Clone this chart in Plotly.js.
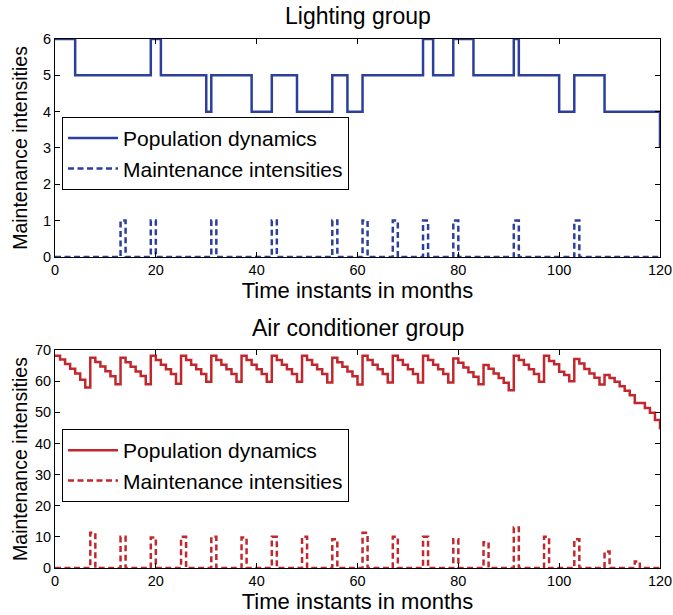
<!DOCTYPE html>
<html>
<head>
<meta charset="utf-8">
<script src="https://cdn.plot.ly/plotly-3.0.1.min.js"></script>
<style>
html,body{margin:0;padding:0;background:#fff;}
#chart{width:673px;height:615px;}
</style>
</head>
<body>
<div id="chart"></div>
<script>
// ---- Lighting group (step change points) ----
const lightPopX = [0, 4, 19, 21, 30, 31, 39, 43, 48, 55, 58, 61, 73, 75, 79, 83, 91, 92, 100, 103, 109, 120];
const lightPopY = [6, 5, 6, 5, 4, 5, 4, 5, 4, 5, 4, 5, 6, 5, 6, 5, 6, 5, 4, 5, 4, 3];
const lightMaintX = [0, 13, 14, 19, 20, 31, 32, 43, 44, 55, 56, 61, 62, 67, 68, 73, 74, 79, 80, 91, 92, 103, 104, 120];
const lightMaintY = [0, 1, 0, 1, 0, 1, 0, 1, 0, 1, 0, 1, 0, 1, 0, 1, 0, 1, 0, 1, 0, 1, 0, 0];

// ---- Air conditioner group ----
const months = [];
for (let m = 0; m <= 120; m++) months.push(m);
const acPop = [
  68.2, 67, 65.5, 64, 62.5, 60.5, 58,
  67.5, 66.2, 64.7, 63.2, 61.6, 59,
  67.5, 66.1, 64.6, 63.1, 61.7, 59,
  68.2, 66.8, 65.3, 63.8, 62.3, 59.2,
  68.2, 66.8, 65.3, 63.8, 62.3, 59.8,
  68.2, 66.8, 65.3, 63.8, 62.3, 59.8,
  68.2, 66.8, 65.3, 63.8, 62.3, 59.8,
  68.2, 66.8, 65.3, 63.8, 62.3, 59.8,
  68.2, 66.8, 65.3, 63.8, 62.3, 59.6,
  67.5, 66.1, 64.6, 63.1, 61.6, 58.9,
  68.2, 66.8, 65.3, 63.8, 62.3, 59.6,
  68.2, 66.8, 65.3, 63.8, 62.3, 59.6,
  68.2, 66.8, 65.3, 63.8, 62.3, 59.6,
  67.3, 65.9, 64.4, 62.9, 61.4, 59,
  65.2, 64, 62.5, 61, 59.5, 57.1,
  68.2, 66.8, 65.3, 63.8, 62.3, 59.8,
  68.2, 66.5, 65.4, 63, 62, 60,
  67.1, 65.7, 63.9, 62.5, 61.1, 58.9,
  62, 61, 59.8, 58.4, 56.9, 55.5, 53, 53, 51.4, 49.9, 47.5, 44.5
];
const acMaintX = [0, 7, 8, 13, 14, 19, 20, 25, 26, 31, 32, 37, 38, 43, 44, 49, 50, 55, 56,
  61, 62, 67, 68, 73, 74, 79, 80, 85, 86, 91, 92, 97, 98, 103, 104, 109, 110, 115, 116, 120];
const acMaintY = [0, 11.3, 0, 10, 0, 9.8, 0, 10, 0, 10, 0, 9.8, 0, 10, 0, 10, 0, 9.2, 0,
  11.3, 0, 10, 0, 10, 0, 9.2, 0, 8.3, 0, 13, 0, 10, 0, 9.2, 0, 5.3, 0, 2.1, 0, 0];

// ---- labels ----
const titles = ['Lighting group', 'Air conditioner group'];
const xLabel = 'Time instants in months';
const yLabel = 'Maintenance intensities';
const seriesNames = ['Population dynamics', 'Maintenance intensities'];

const blue = '#2d3f9c';
const red = '#c1272d';
const FONT = 'Liberation Sans, Arial, Helvetica, sans-serif';
const dashPat = '6px,3.5px';

const traces = [
  {x: lightPopX, y: lightPopY, mode: 'lines', line: {shape: 'hv', color: blue, width: 2.5},
   name: seriesNames[0], xaxis: 'x', yaxis: 'y', legend: 'legend'},
  {x: lightMaintX, y: lightMaintY, mode: 'lines', line: {shape: 'hv', color: blue, width: 2.5, dash: dashPat},
   name: seriesNames[1], xaxis: 'x', yaxis: 'y', legend: 'legend'},
  {x: months, y: acPop, mode: 'lines', line: {shape: 'hv', color: red, width: 2.5},
   name: seriesNames[0], xaxis: 'x2', yaxis: 'y2', legend: 'legend2'},
  {x: acMaintX, y: acMaintY, mode: 'lines', line: {shape: 'hv', color: red, width: 2.5, dash: dashPat},
   name: seriesNames[1], xaxis: 'x2', yaxis: 'y2', legend: 'legend2'}
];

const axBase = {
  showgrid: false, zeroline: false, showline: true, linecolor: '#000', linewidth: 1,
  mirror: 'allticks', ticks: 'inside', ticklen: 5, tickcolor: '#000', tickwidth: 1,
  tickfont: {family: FONT, size: 14.5, color: '#000'}, fixedrange: true
};
const legBase = {
  xref: 'paper', yref: 'paper', xanchor: 'left', yanchor: 'top',
  bgcolor: '#fff', bordercolor: '#000', borderwidth: 1,
  font: {family: FONT, size: 21, color: '#000'}, itemwidth: 50, tracegroupgap: 0
};

const layout = {
  width: 673, height: 615,
  margin: {l: 55, r: 13, t: 39, b: 47},
  paper_bgcolor: '#fff', plot_bgcolor: '#fff',
  font: {family: FONT, color: '#000'},
  showlegend: true,
  xaxis: Object.assign({}, axBase, {domain: [0, 1], range: [0, 120], dtick: 20, tick0: 0, anchor: 'y',
    title: {text: xLabel, font: {family: FONT, size: 22, color: '#000'}, standoff: 3}}),
  yaxis: Object.assign({}, axBase, {domain: [0.588, 1], range: [0, 6], dtick: 1, tick0: 0, anchor: 'x',
    title: {text: yLabel, font: {family: FONT, size: 19.5, color: '#000'}, standoff: 10}}),
  xaxis2: Object.assign({}, axBase, {domain: [0, 1], range: [0, 120], dtick: 20, tick0: 0, anchor: 'y2',
    title: {text: xLabel, font: {family: FONT, size: 22, color: '#000'}, standoff: 3}}),
  yaxis2: Object.assign({}, axBase, {domain: [0, 0.412], range: [0, 70], dtick: 10, tick0: 0, anchor: 'x2',
    title: {text: yLabel, font: {family: FONT, size: 19.5, color: '#000'}, standoff: 2}}),
  legend: Object.assign({}, legBase, {x: 0.0116, y: 0.8526}),
  legend2: Object.assign({}, legBase, {x: 0.0116, y: 0.2628}),
  annotations: [
    {text: titles[0], xref: 'paper', yref: 'paper', x: 0.5, y: 1, yshift: 23, xanchor: 'center', yanchor: 'middle',
     showarrow: false, font: {family: FONT, size: 23, color: '#000'}},
    {text: titles[1], xref: 'paper', yref: 'paper', x: 0.5, y: 0.412, yshift: 22, xanchor: 'center', yanchor: 'middle',
     showarrow: false, font: {family: FONT, size: 23, color: '#000'}}
  ]
};

Plotly.newPlot('chart', traces, layout, {displayModeBar: false, staticPlot: true});
</script>
</body>
</html>
